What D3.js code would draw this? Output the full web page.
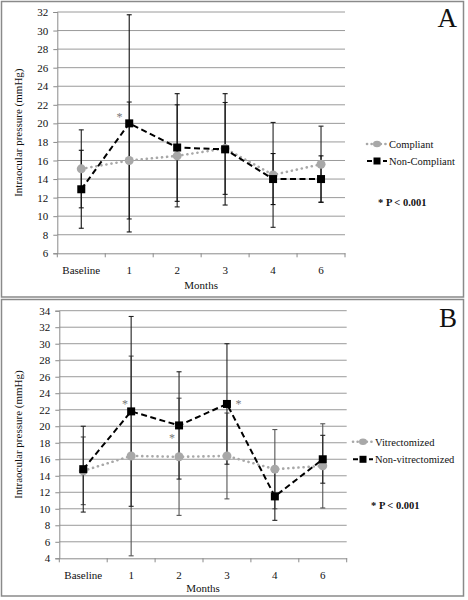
<!DOCTYPE html>
<html><head><meta charset="utf-8">
<script src="https://cdn.jsdelivr.net/npm/d3@7"></script>
<style>body{margin:0;background:#fff}svg{display:block}</style>
</head><body><svg id="c" width="468" height="600" font-family="Liberation Serif, Times New Roman, serif"></svg>
<script>
const categories = ["Baseline","1","2","3","4","6"];
// Panel A
const compliantMean = [15.1, 16.0, 16.5, 17.3, 14.45, 15.6];
const compliantErr  = [4.2, 6.3, 5.5, 4.95, 5.65, 4.1];
const nonCompliantMean = [12.9, 20.0, 17.4, 17.2, 14.0, 14.0];
const nonCompliantErr  = [4.2, 11.7, 5.8, 6.0, 2.75, 2.5];
const ticksA = [6,8,10,12,14,16,18,20,22,24,26,28,30,32];
// Panel B
const vitMean = [14.6, 16.4, 16.3, 16.4, 14.8, 15.2];
const vitErr  = [4.1, 12.1, 7.1, 5.2, 4.8, 5.1];
const nonVitMean = [14.8, 21.8, 20.1, 22.7, 11.5, 16.0];
const nonVitErr  = [5.2, 11.5, 6.5, 7.3, 2.9, 2.9];
const ticksB = [4,6,8,10,12,14,16,18,20,22,24,26,28,30,32,34];

const FONT = "Liberation Serif, Times New Roman, serif";
const svg = d3.select("#c");

// panel frames
svg.append("rect").attr("x",1.5).attr("y",1.5).attr("width",462).attr("height",295.5)
  .attr("fill","none").attr("stroke","#8a8a8a").attr("stroke-width",1.5);
svg.append("rect").attr("x",1.5).attr("y",299.5).attr("width",462).attr("height",296.5)
  .attr("fill","none").attr("stroke","#8a8a8a").attr("stroke-width",1.5);

function panel(cfg){
  const g = svg.append("g");
  const x = d3.scaleBand().domain(categories).range([cfg.x0, cfg.x1]).padding(0);
  const y = d3.scaleLinear().domain(cfg.ydom).range([cfg.yb, cfg.yt]);
  const cx = c => x(c) + x.bandwidth()/2;
  // grid
  g.selectAll(".grid").data(cfg.ticks.slice(1)).enter().append("line")
    .attr("x1",cfg.x0).attr("x2",cfg.x1).attr("y1",d=>y(d)).attr("y2",d=>y(d))
    .attr("stroke","#9a9a9a").attr("stroke-width",1);
  // y axis
  const ya = d3.axisLeft(y).tickValues(cfg.ticks).tickSize(4).tickPadding(5).tickFormat(d3.format("d"));
  const yg = g.append("g").attr("transform",`translate(${cfg.x0},0)`).call(ya);
  yg.attr("font-family",FONT).attr("font-size",null);
  yg.select(".domain").attr("stroke","#8a8a8a");
  yg.selectAll(".tick line").attr("stroke","#8a8a8a");
  yg.selectAll(".tick text").attr("font-size","11px").attr("fill","#111");
  // x axis
  const xa = d3.axisBottom(x).tickSize(0).tickPadding(13);
  const xg = g.append("g").attr("transform",`translate(0,${cfg.yb})`).call(xa);
  xg.attr("font-family",FONT).attr("font-size",null);
  xg.select(".domain").attr("stroke","#8a8a8a");
  xg.selectAll(".tick text").attr("font-size","11px").attr("fill","#111");
  // boundary tick marks
  const bounds = categories.map(c=>x(c)).concat([cfg.x1]);
  g.selectAll(".bt").data(bounds).enter().append("line")
    .attr("x1",d=>d).attr("x2",d=>d).attr("y1",cfg.yb).attr("y2",cfg.yb+4)
    .attr("stroke","#8a8a8a");
  // labels
  g.append("text").attr("x",(cfg.x0+cfg.x1)/2).attr("y",cfg.monthsY).attr("text-anchor","middle")
    .attr("font-size","11px").attr("fill","#111").text("Months");
  g.append("text").attr("transform",`translate(${cfg.ylabX},${(cfg.yt+cfg.yb)/2}) rotate(-90)`)
    .attr("text-anchor","middle").attr("font-size","11px").attr("fill","#111").text("Intraocular pressure (mmHg)");
  g.append("text").attr("x",457).attr("y",cfg.letterY).attr("text-anchor","end")
    .attr("font-size","27px").attr("fill","#111").text(cfg.letter);

  function series(mean, err, s){
    const data = categories.map((c,i)=>({c, m:mean[i], e:err[i]}));
    const eb = g.append("g");
    data.forEach(d=>{
      eb.append("line").attr("x1",cx(d.c)).attr("x2",cx(d.c)).attr("y1",y(d.m-d.e)).attr("y2",y(d.m+d.e))
        .attr("stroke",s.errColor).attr("stroke-width",1.1);
      [d.m-d.e, d.m+d.e].forEach(v=>{
        eb.append("line").attr("x1",cx(d.c)-2.5).attr("x2",cx(d.c)+2.5).attr("y1",y(v)).attr("y2",y(v))
          .attr("stroke",s.errColor).attr("stroke-width",1.1);
      });
    });
    return {data, draw(){
      g.append("path").datum(data)
        .attr("d", d3.line().x(d=>cx(d.c)).y(d=>y(d.m)))
        .attr("fill","none").attr("stroke",s.color).attr("stroke-width",s.width)
        .attr("stroke-dasharray",s.dash).attr("stroke-linecap",s.cap);
      data.forEach(d=>{
        if(s.shape==="circle") g.append("circle").attr("cx",cx(d.c)).attr("cy",y(d.m)).attr("r",4.5).attr("fill",s.color);
        else g.append("rect").attr("x",cx(d.c)-4).attr("y",y(d.m)-4).attr("width",8).attr("height",8).attr("fill",s.color);
      });
    }};
  }
  const sg = {color:"#a8a8a8", width:2.6, dash:"0.1,5", cap:"round", shape:"circle", errColor:cfg.err1};
  const sb = {color:"#000", width:2, dash:"6,3.5", cap:"butt", shape:"rect", errColor:cfg.err2};
  const a = series(cfg.m1, cfg.e1, sg);
  const b = series(cfg.m2, cfg.e2, sb);
  a.draw(); b.draw();

  cfg.stars.forEach(st=>{
    g.append("text").attr("x",st.x).attr("y",st.y).attr("text-anchor","middle")
      .attr("font-size","12px").attr("fill","#777").text("*");
  });
  const L = cfg.legend;
  [[cfg.n1, sg, L.y1],[cfg.n2, sb, L.y2]].forEach(([name,s,ly])=>{
    g.append("line").attr("x1",L.x0).attr("x2",L.x0+20).attr("y1",ly).attr("y2",ly)
      .attr("stroke",s.color).attr("stroke-width",s.width).attr("stroke-dasharray",s.shape==="circle"?"0.1,4.5":"5,3")
      .attr("stroke-linecap",s.cap);
    if(s.shape==="circle") g.append("ellipse").attr("cx",L.x0+10).attr("cy",ly).attr("rx",4).attr("ry",3.2).attr("fill",s.color);
    else g.append("rect").attr("x",L.x0+6.5).attr("y",ly-3.5).attr("width",7).attr("height",7).attr("fill",s.color);
    g.append("text").attr("x",L.x0+22).attr("y",ly+3.8).attr("font-size","10.5px").attr("fill","#111").text(name);
  });
  g.append("text").attr("x",L.px).attr("y",L.py).attr("font-size","10.5px").attr("font-weight","bold")
    .attr("fill","#111").text("* P < 0.001");
  return {x,y,cx};
}

panel({x0:57.3, x1:345, yb:253.3, yt:12, ydom:[6,32], ticks:ticksA,
  m1:compliantMean, e1:compliantErr, m2:nonCompliantMean, e2:nonCompliantErr,
  n1:"Compliant", n2:"Non-Compliant", err1:"#222", err2:"#111",
  monthsY:289, ylabX:22, letter:"A", letterY:27,
  stars:[{x:119.5,y:121}],
  legend:{x0:367, y1:144, y2:161, px:378, py:205.5}});

panel({x0:59.3, x1:346.7, yb:558.3, yt:310.7, ydom:[4,34], ticks:ticksB,
  m1:vitMean, e1:vitErr, m2:nonVitMean, e2:nonVitErr,
  n1:"Vitrectomized", n2:"Non-vitrectomized", err1:"#555", err2:"#222",
  monthsY:592, ylabX:22, letter:"B", letterY:327,
  stars:[{x:125,y:408},{x:172,y:442},{x:238.5,y:408}],
  legend:{x0:353, y1:441.7, y2:459.3, px:371, py:509}});

svg.selectAll("text").attr("font-family", FONT);
</script></body></html>
